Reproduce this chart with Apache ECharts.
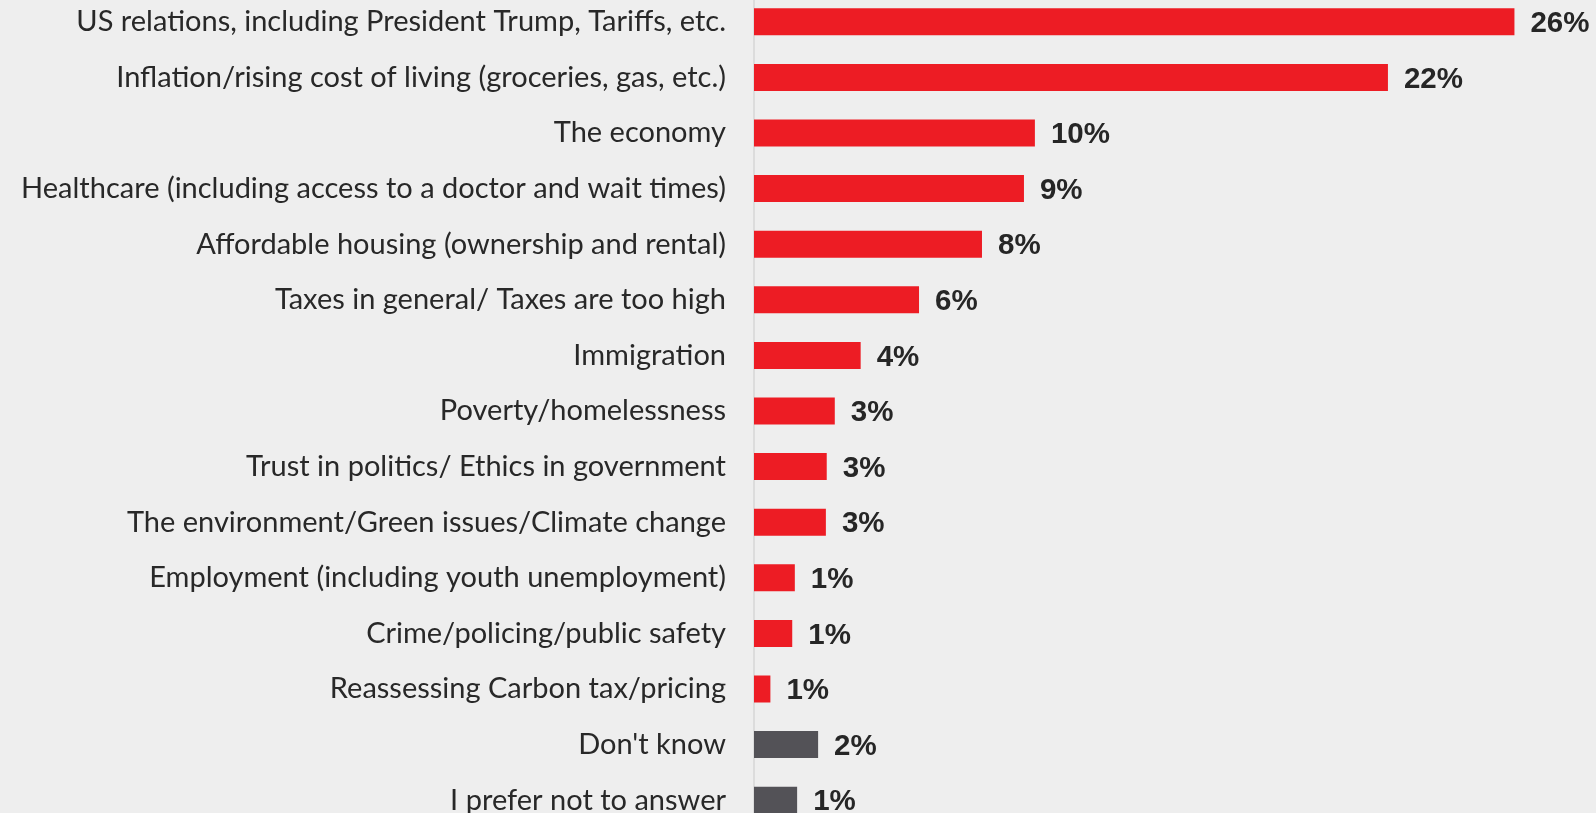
<!DOCTYPE html>
<html>
<head>
<meta charset="utf-8">
<script src="https://cdn.jsdelivr.net/npm/echarts@6/dist/echarts.min.js"></script>
<style>
html,body{margin:0;padding:0;background:#EEEEEE;}
#chart{width:1596px;height:813px;}
</style>
</head>
<body>
<div id="chart"></div>
<script>
const categories = [
  "US relations, including President Trump, Tariffs, etc.",
  "Inflation/rising cost of living (groceries, gas, etc.)",
  "The economy",
  "Healthcare (including access to a doctor and wait times)",
  "Affordable housing (ownership and rental)",
  "Taxes in general/ Taxes are too high",
  "Immigration",
  "Poverty/homelessness",
  "Trust in politics/ Ethics in government",
  "The environment/Green issues/Climate change",
  "Employment (including youth unemployment)",
  "Crime/policing/public safety",
  "Reassessing Carbon tax/pricing",
  "Don't know",
  "I prefer not to answer"
];
const values = [26.45, 22.05, 9.77, 9.39, 7.93, 5.74, 3.71, 2.81, 2.53, 2.50, 1.42, 1.33, 0.57, 2.23, 1.50];
const valueLabels = ["26%","22%","10%","9%","8%","6%","4%","3%","3%","3%","1%","1%","1%","2%","1%"];
const isOther = [false,false,false,false,false,false,false,false,false,false,false,false,false,true,true];

const RED = '#ED1C24', GREY = '#535257';

const chart = echarts.init(document.getElementById('chart'));
chart.setOption({
  backgroundColor: '#EEEEEE',
  animation: false,
  grid: { left: 754, top: -6, width: 862.5, height: 834, containLabel: false, outerBoundsMode: 'none' },
  xAxis: { type: 'value', min: 0, max: 30, show: false },
  yAxis: {
    type: 'category', data: categories, inverse: true,
    axisLine: { show: true, lineStyle: { color: '#DCDCDC', width: 2 } },
    axisTick: { show: false },
    axisLabel: { margin: 28, fontSize: 29, color: '#282828', fontFamily: 'Lato' }
  },
  series: [{
    type: 'bar',
    barWidth: 27,
    data: values.map((v, i) => ({ value: v, itemStyle: { color: isOther[i] ? GREY : RED } })),
    label: {
      show: true, position: 'right', distance: 16, offset: [0, 2],
      formatter: p => valueLabels[p.dataIndex],
      fontFamily: 'Liberation Sans', fontWeight: 'bold', fontSize: 29.5, color: '#262626'
    }
  }]
});
</script>
</body>
</html>
